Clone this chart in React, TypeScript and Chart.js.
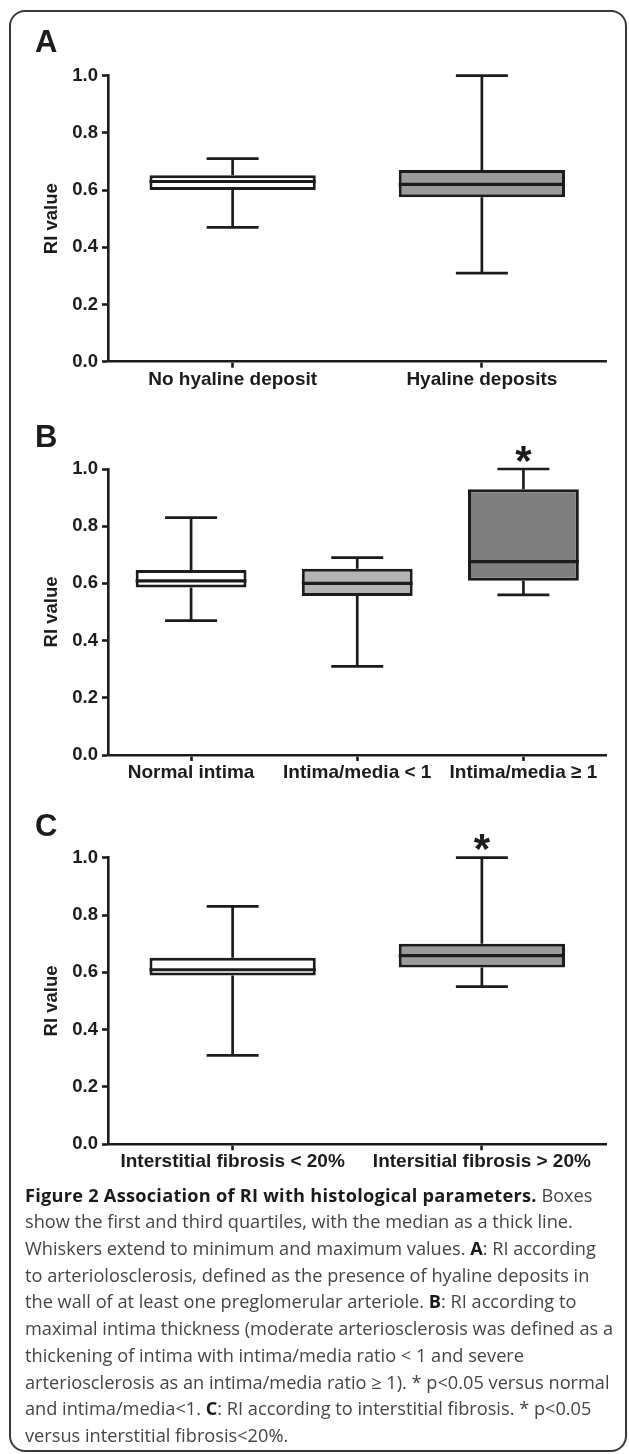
import React, { useEffect, useRef } from 'react';
import { Chart, registerables } from 'chart.js';

Chart.register(...registerables);

// ---------- data ----------
const Y_TICKS = [0, 0.2, 0.4, 0.6, 0.8, 1.0];

const A_CATEGORIES = ['No hyaline deposit', 'Hyaline deposits'];
const A_MIN = [0.47, 0.31];
const A_Q1 = [0.6, 0.575];
const A_MEDIAN = [0.63, 0.62];
const A_Q3 = [0.652, 0.67];
const A_MAX = [0.71, 1.0];
const A_SIGNIFICANT = [false, false];

const B_CATEGORIES = ['Normal intima', 'Intima/media < 1', 'Intima/media \u2265 1'];
const B_MIN = [0.47, 0.31, 0.56];
const B_Q1 = [0.586, 0.556, 0.609];
const B_MEDIAN = [0.609, 0.6, 0.676];
const B_Q3 = [0.647, 0.651, 0.929];
const B_MAX = [0.83, 0.69, 1.0];
const B_SIGNIFICANT = [false, false, true];

const C_CATEGORIES = ['Interstitial fibrosis < 20%', 'Intersitial fibrosis > 20%'];
const C_MIN = [0.31, 0.55];
const C_Q1 = [0.589, 0.617];
const C_MEDIAN = [0.609, 0.658];
const C_Q3 = [0.651, 0.7];
const C_MAX = [0.83, 1.0];
const C_SIGNIFICANT = [false, true];

// ---------- styles ----------
const A_COLORS = ['#ffffff', '#9b9b9b'];
const B_COLORS = ['#ffffff', '#b4b4b4', '#7f7f7f'];
const C_COLORS = ['#ffffff', '#9b9b9b'];

const INK = '#1c1c1c';
const FONT = '"Liberation Sans", Arial, Helvetica, sans-serif';
const CAPTION_FONT = '"Open Sans", "Noto Sans", sans-serif';

type Panel = {
  letter: string;
  categories: string[];
  min: number[];
  q1: number[];
  median: number[];
  q3: number[];
  max: number[];
  significant: boolean[];
  colors: string[];
  canvasTop: number;
  canvasHeight: number;
  chartTop: number;
  chartBottom: number;
  letterTop: number;
};

const PANELS: Panel[] = [
  {
    letter: 'A', categories: A_CATEGORIES, min: A_MIN, q1: A_Q1, median: A_MEDIAN, q3: A_Q3, max: A_MAX,
    significant: A_SIGNIFICANT, colors: A_COLORS,
    canvasTop: 40, canvasHeight: 370, chartTop: 75.7, chartBottom: 361.7, letterTop: 26,
  },
  {
    letter: 'B', categories: B_CATEGORIES, min: B_MIN, q1: B_Q1, median: B_MEDIAN, q3: B_Q3, max: B_MAX,
    significant: B_SIGNIFICANT, colors: B_COLORS,
    canvasTop: 430, canvasHeight: 370, chartTop: 469, chartBottom: 755, letterTop: 421,
  },
  {
    letter: 'C', categories: C_CATEGORIES, min: C_MIN, q1: C_Q1, median: C_MEDIAN, q3: C_Q3, max: C_MAX,
    significant: C_SIGNIFICANT, colors: C_COLORS,
    canvasTop: 820, canvasHeight: 370, chartTop: 857.7, chartBottom: 1144.3, letterTop: 810,
  },
];

const CAPTION_LINES: { t: string; b?: boolean }[][] = [
  [{ t: 'Figure 2 Association of RI with histological parameters.', b: true }, { t: ' Boxes' }],
  [{ t: 'show the first and third quartiles, with the median as a thick line.' }],
  [{ t: 'Whiskers extend to minimum and maximum values. ' }, { t: 'A', b: true }, { t: ': RI according' }],
  [{ t: 'to arteriolosclerosis, defined as the presence of hyaline deposits in' }],
  [{ t: 'the wall of at least one preglomerular arteriole. ' }, { t: 'B', b: true }, { t: ': RI according to' }],
  [{ t: 'maximal intima thickness (moderate arteriosclerosis was defined as a' }],
  [{ t: 'thickening of intima with intima/media ratio < 1 and severe' }],
  [{ t: 'arteriosclerosis as an intima/media ratio \u2265 1). * p<0.05 versus normal' }],
  [{ t: 'and intima/media<1. ' }, { t: 'C', b: true }, { t: ': RI according to interstitial fibrosis. * p<0.05' }],
  [{ t: 'versus interstitial fibrosis<20%.' }],
];

const CAP_PX = 52;

function makeBoxPlugin(p: Panel) {
  return {
    id: 'boxWhiskers' + p.letter,
    afterDatasetsDraw(chart: any) {
      const { ctx } = chart;
      const x = chart.scales.x;
      const y = chart.scales.y;
      const meta = chart.getDatasetMeta(0);
      ctx.save();
      ctx.strokeStyle = INK;
      ctx.fillStyle = INK;
      ctx.lineCap = 'butt';
      p.min.forEach((mn, i) => {
        const cx = x.getPixelForValue(i);
        const bar = meta.data[i];
        const half = bar.width / 2;
        const pMin = y.getPixelForValue(mn);
        const pMax = y.getPixelForValue(p.max[i]);
        const pQ1 = y.getPixelForValue(p.q1[i]);
        const pQ3 = y.getPixelForValue(p.q3[i]);
        const pMed = y.getPixelForValue(p.median[i]);
        ctx.lineWidth = 2.7;
        ctx.beginPath();
        ctx.moveTo(cx, pQ3);
        ctx.lineTo(cx, pMax);
        ctx.moveTo(cx - CAP_PX / 2, pMax);
        ctx.lineTo(cx + CAP_PX / 2, pMax);
        ctx.moveTo(cx, pQ1);
        ctx.lineTo(cx, pMin);
        ctx.moveTo(cx - CAP_PX / 2, pMin);
        ctx.lineTo(cx + CAP_PX / 2, pMin);
        ctx.stroke();
        ctx.lineWidth = 3.2;
        ctx.beginPath();
        ctx.moveTo(bar.x - half, pMed);
        ctx.lineTo(bar.x + half, pMed);
        ctx.stroke();
        if (p.significant[i]) {
          ctx.font = `bold 42px ${FONT}`;
          ctx.textAlign = 'center';
          ctx.textBaseline = 'alphabetic';
          ctx.fillText('*', cx, pMax + 5.5);
        }
      });
      ctx.restore();
    },
  };
}

function makeConfig(p: Panel): any {
  const xHeight = p.canvasTop + p.canvasHeight - p.chartBottom;
  const gridOpts = {
    display: true,
    drawOnChartArea: false,
    drawTicks: true,
    tickLength: 6,
    tickWidth: 2.6,
    tickColor: INK,
    offset: false,
  };
  return {
    type: 'bar',
    data: {
      labels: p.categories,
      datasets: [
        {
          data: p.q1.map((v, i) => [v, p.q3[i]]),
          backgroundColor: p.colors,
          borderColor: INK,
          borderWidth: 3,
          borderSkipped: false,
          barPercentage: 0.667,
          categoryPercentage: 1,
        },
      ],
    },
    options: {
      responsive: false,
      animation: false,
      events: [],
      layout: { padding: { top: p.chartTop - p.canvasTop, right: 22.5, bottom: 0, left: 0 } },
      plugins: {
        legend: { display: false },
        tooltip: { enabled: false },
        title: { display: false },
      },
      scales: {
        x: {
          type: 'category',
          offset: true,
          grid: gridOpts,
          border: { display: true, color: INK, width: 2.6 },
          ticks: {
            color: INK,
            font: { family: FONT, size: 19, weight: 'bold' },
            padding: 0.5,
            maxRotation: 0,
            autoSkip: false,
          },
          afterFit: (s: any) => {
            s.height = xHeight;
          },
        },
        y: {
          type: 'linear',
          min: 0,
          max: 1,
          afterBuildTicks: (s: any) => {
            s.ticks = Y_TICKS.map((v) => ({ value: v }));
          },
          grid: gridOpts,
          border: { display: true, color: INK, width: 2.6 },
          ticks: {
            color: INK,
            font: { family: FONT, size: 18.5, weight: 'bold' },
            padding: 4,
            callback: (v: any) => Number(v).toFixed(1),
          },
          title: {
            display: true,
            text: 'RI value',
            color: INK,
            font: { family: FONT, size: 18.5, weight: 'bold' },
            padding: { top: 40.9, bottom: 0 },
          },
          afterFit: (s: any) => {
            s.width = 108;
          },
        },
      },
    },
    plugins: [makeBoxPlugin(p)],
  };
}

function PanelChart({ panel }: { panel: Panel }) {
  const ref = useRef<HTMLCanvasElement | null>(null);
  useEffect(() => {
    if (!ref.current) return;
    const chart = new Chart(ref.current, makeConfig(panel));
    return () => chart.destroy();
  }, [panel]);
  return (
    <>
      <canvas
        ref={ref}
        width={629}
        height={panel.canvasHeight}
        style={{ position: 'absolute', left: 0, top: panel.canvasTop, width: 629, height: panel.canvasHeight }}
      />
      <div
        style={{
          position: 'absolute',
          left: 35,
          top: panel.letterTop,
          font: `bold 31px ${FONT}`,
          lineHeight: '31px',
          color: INK,
        }}
      >
        {panel.letter}
      </div>
    </>
  );
}

export default function App() {
  return (
    <div style={{ position: 'absolute', left: 0, top: 0, width: 629, height: 1454, background: '#ffffff', overflow: 'hidden' }}>
      <div
        style={{
          position: 'absolute',
          left: 9,
          top: 10,
          width: 618,
          height: 1442,
          boxSizing: 'border-box',
          border: '2px solid #3a3a3a',
          borderRadius: 16,
        }}
      />
      {PANELS.map((p) => (
        <PanelChart key={p.letter} panel={p} />
      ))}
      <div
        style={{
          position: 'absolute',
          left: 25,
          top: 1181.6,
          font: `18.2px ${CAPTION_FONT}`,
          lineHeight: '26.7px',
          color: '#454545',
        }}
      >
        {CAPTION_LINES.map((line, i) => (
          <div key={i} style={{ whiteSpace: 'nowrap' }}>
            {line.map((seg, j) => (
              <span
                key={j}
                style={
                  seg.b
                    ? { fontWeight: 700, color: '#1a1a1a', letterSpacing: seg.t.length > 3 ? '0.25px' : undefined }
                    : undefined
                }
              >
                {seg.t}
              </span>
            ))}
          </div>
        ))}
      </div>
    </div>
  );
}
